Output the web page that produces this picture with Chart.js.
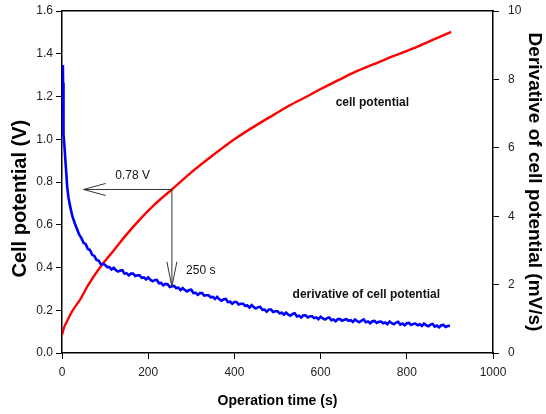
<!DOCTYPE html>
<html>
<head>
<meta charset="utf-8">
<script src="https://cdn.jsdelivr.net/npm/chart.js@4"></script>
<style>
  html, body { margin: 0; padding: 0; background: #fff; }
  #wrap { width: 546px; height: 414px; }
</style>
</head>
<body>
<div id="wrap"><canvas id="chartCanvas"></canvas></div>
<script>
// cell potential (left axis, V)
const potentialTime = [0, 5, 12, 25, 42, 60, 88, 120, 150, 181, 215, 255, 300, 350, 400, 450, 490, 530, 568, 600, 645, 680, 722, 770, 815, 860, 903];
const potential = [0.085, 0.12, 0.15, 0.20, 0.25, 0.315, 0.40, 0.48, 0.555, 0.625, 0.695, 0.765, 0.845, 0.925, 1.0, 1.065, 1.113, 1.16, 1.20, 1.235, 1.28, 1.315, 1.35, 1.39, 1.425, 1.465, 1.502];

// derivative of cell potential (right axis, mV/s)
const derivTime = [2, 2.5, 3, 3.5, 4, 6, 8, 10, 12, 15, 19, 24, 30, 35, 40, 45, 50, 55, 60, 65, 70, 75, 80, 85, 90, 95,
  100, 105, 110, 115, 120, 125, 130, 135, 140, 145, 150, 155, 160, 165, 170, 175,
  180, 185, 190, 195, 200, 205, 210, 215, 220, 225, 230, 235, 240, 245, 250, 255,
  260, 265, 270, 275, 280, 285, 290, 295, 300, 305, 310, 315, 320, 325, 330, 335,
  340, 345, 350, 355, 360, 365, 370, 375, 380, 385, 390, 395, 400, 405, 410, 415,
  420, 425, 430, 435, 440, 445, 450, 455, 460, 465, 470, 475, 480, 485, 490, 495,
  500, 505, 510, 515, 520, 525, 530, 535, 540, 545, 550, 555, 560, 565, 570, 575,
  580, 585, 590, 595, 600, 605, 610, 615, 620, 625, 630, 635, 640, 645, 650, 655,
  660, 665, 670, 675, 680, 685, 690, 695, 700, 705, 710, 715, 720, 725, 730, 735,
  740, 745, 750, 755, 760, 765, 770, 775, 780, 785, 790, 795, 800, 805, 810, 815,
  820, 825, 830, 835, 840, 845, 850, 855, 860, 865, 870, 875, 880, 885, 890, 895, 900];
const derivative = [8.42, 7.9, 7.2, 6.7, 6.4, 6.0, 5.6, 5.25, 4.86, 4.55, 4.28, 4.0, 3.78, 3.62, 3.46, 3.36, 3.22, 3.18, 3.04, 3.01, 2.87, 2.84, 2.72, 2.70, 2.60, 2.60,
  2.58, 2.51, 2.51, 2.44, 2.49, 2.42, 2.38, 2.41, 2.42, 2.32, 2.33, 2.27, 2.32, 2.32, 2.25, 2.27,
  2.27, 2.20, 2.21, 2.15, 2.21, 2.14, 2.10, 2.13, 2.14, 2.04, 2.05, 1.98, 2.02, 2.01, 1.93, 1.95,
  1.96, 1.90, 1.91, 1.84, 1.90, 1.84, 1.80, 1.84, 1.85, 1.75, 1.76, 1.70, 1.75, 1.75, 1.68, 1.69,
  1.69, 1.63, 1.64, 1.58, 1.64, 1.57, 1.53, 1.57, 1.58, 1.49, 1.50, 1.44, 1.49, 1.49, 1.42, 1.44,
  1.44, 1.38, 1.39, 1.33, 1.40, 1.34, 1.30, 1.34, 1.35, 1.26, 1.27, 1.21, 1.27, 1.27, 1.20, 1.22,
  1.22, 1.16, 1.18, 1.12, 1.18, 1.12, 1.09, 1.14, 1.16, 1.07, 1.09, 1.04, 1.10, 1.10, 1.04, 1.07,
  1.08, 1.02, 1.04, 0.99, 1.06, 1.01, 0.98, 1.02, 1.04, 0.96, 0.98, 0.93, 0.99, 0.99, 0.94, 0.97,
  0.99, 0.94, 0.96, 0.91, 0.98, 0.93, 0.90, 0.95, 0.98, 0.90, 0.92, 0.87, 0.93, 0.94, 0.88, 0.91,
  0.92, 0.87, 0.89, 0.84, 0.92, 0.87, 0.84, 0.89, 0.91, 0.83, 0.86, 0.81, 0.87, 0.88, 0.82, 0.85,
  0.86, 0.81, 0.84, 0.79, 0.86, 0.81, 0.78, 0.83, 0.85, 0.77, 0.80, 0.75, 0.81, 0.82, 0.76, 0.79, 0.80];

// x axis ticks
const timeTicks = [0, 200, 400, 600, 800, 1000];

// annotation: 250 s mark on the cell potential curve
const markTime = 255;
const markPotential = 0.765;
const arrowLeftTime = 50;
const arrowDownPotential = 0.31;

// texts placed in data units (time, cell potential)
const noteTexts = ['0.78 V', '250 s', 'cell potential', 'derivative of cell potential'];
const noteTimes = [164, 322, 720, 706];
const notePotentials = [0.828, 0.384, 1.169, 0.272];
const noteBold = [false, false, true, true];

const fontFamily = '"Liberation Sans", Arial, sans-serif';
const axisColor = '#000';
const textColor = '#222';

function toPoints(xs, ys) {
    return xs.map((x, i) => ({ x: x, y: ys[i] }));
}

function drawArrow(ctx, x0, y0, x1, y1, headLen, headHalf) {
    const ang = Math.atan2(y1 - y0, x1 - x0);
    ctx.beginPath();
    ctx.moveTo(x0, y0);
    ctx.lineTo(x1, y1);
    const bx = x1 - headLen * Math.cos(ang);
    const by = y1 - headLen * Math.sin(ang);
    const px = -Math.sin(ang) * headHalf;
    const py = Math.cos(ang) * headHalf;
    ctx.moveTo(bx + px, by + py);
    ctx.lineTo(x1, y1);
    ctx.lineTo(bx - px, by - py);
    ctx.stroke();
}

// arrows and the free texts, drawn through the scales
const notesPlugin = {
    id: 'notes',
    afterDatasetsDraw(chart) {
        const ctx = chart.ctx;
        const xs = chart.scales.x;
        const ys = chart.scales.y;
        ctx.save();
        ctx.strokeStyle = '#333';
        ctx.lineWidth = 1;
        const mx = xs.getPixelForValue(markTime);
        const my = ys.getPixelForValue(markPotential);
        drawArrow(ctx, mx, my, xs.getPixelForValue(arrowLeftTime), my, 22, 6);
        drawArrow(ctx, mx, my, mx, ys.getPixelForValue(arrowDownPotential), 25, 5);

        ctx.fillStyle = '#111';
        ctx.textAlign = 'center';
        ctx.textBaseline = 'middle';
        noteTexts.forEach((t, i) => {
            ctx.font = (noteBold[i] ? 'bold ' : '') + '12px ' + fontFamily;
            ctx.fillText(t, xs.getPixelForValue(noteTimes[i]), ys.getPixelForValue(notePotentials[i]));
        });
        ctx.restore();
    }
};

const tickGrid = {
    drawOnChartArea: false,
    drawTicks: true,
    tickLength: 6,
    tickColor: axisColor,
    tickWidth: 1
};
const axisBorder = { display: true, color: axisColor, width: 1.5 };

// fixed axis sizes so the plot box sits where the reference has it
function fixWidth(w) {
    return function(scale) {
        scale.width = w;
        scale.paddingTop = 2;
        scale.paddingBottom = 2;
    };
}

new Chart(document.getElementById('chartCanvas'), {
    type: 'line',
    data: {
        datasets: [
            {
                label: 'derivative of cell potential',
                data: toPoints(derivTime, derivative),
                yAxisID: 'y1',
                borderColor: '#0000ff',
                borderWidth: 2.6,
                pointRadius: 0,
                tension: 0,
                fill: false
            },
            {
                label: 'cell potential',
                data: toPoints(potentialTime, potential),
                yAxisID: 'y',
                borderColor: '#ff0000',
                borderWidth: 2.4,
                pointRadius: 0,
                cubicInterpolationMode: 'monotone',
                fill: false
            }
        ]
    },
    options: {
        responsive: true,
        maintainAspectRatio: false,
        animation: false,
        layout: { padding: { top: 11, left: 0, right: 0, bottom: 0 } },
        plugins: {
            legend: { display: false },
            tooltip: { enabled: false }
        },
        scales: {
            x: {
                type: 'linear',
                position: 'bottom',
                min: 0,
                max: 1000,
                afterBuildTicks(scale) {
                    scale.ticks = timeTicks.map(v => ({ value: v }));
                },
                ticks: {
                    color: textColor,
                    padding: 6,
                    maxRotation: 0,
                    font: { family: fontFamily, size: 12 },
                    callback: v => String(v)
                },
                grid: tickGrid,
                border: axisBorder,
                title: {
                    display: true,
                    text: 'Operation time (s)',
                    color: '#000',
                    padding: { top: 0, bottom: 4 },
                    font: { family: fontFamily, size: 14, weight: 'bold' }
                },
                afterFit(scale) {
                    scale.height = 61;
                    scale.paddingLeft = 2;
                    scale.paddingRight = 2;
                }
            },
            xTop: {
                type: 'linear',
                position: 'top',
                min: 0,
                max: 1000,
                ticks: { display: false },
                grid: { display: false, drawTicks: false },
                border: axisBorder,
                afterFit(scale) { scale.height = 0; }
            },
            y: {
                type: 'linear',
                position: 'left',
                min: 0,
                max: 1.6,
                ticks: {
                    stepSize: 0.2,
                    color: textColor,
                    padding: 3,
                    font: { family: fontFamily, size: 12 },
                    callback: v => v.toFixed(1)
                },
                grid: tickGrid,
                border: axisBorder,
                title: {
                    display: true,
                    text: 'Cell potential (V)      ',
                    color: '#000',
                    padding: { top: 8, bottom: 0 },
                    font: { family: fontFamily, size: 20, weight: 'bold' }
                },
                afterFit: fixWidth(62)
            },
            y1: {
                type: 'linear',
                position: 'right',
                min: 0,
                max: 10,
                ticks: {
                    stepSize: 2,
                    color: textColor,
                    padding: 9,
                    font: { family: fontFamily, size: 12 }
                },
                grid: tickGrid,
                border: axisBorder,
                title: {
                    display: true,
                    text: 'Derivative of cell potential (mV/s)',
                    color: '#000',
                    padding: { top: 0, bottom: 0 },
                    font: { family: fontFamily, size: 19, weight: 'bold' }
                },
                afterFit: fixWidth(53)
            }
        }
    },
    plugins: [notesPlugin]
});
</script>
</body>
</html>
